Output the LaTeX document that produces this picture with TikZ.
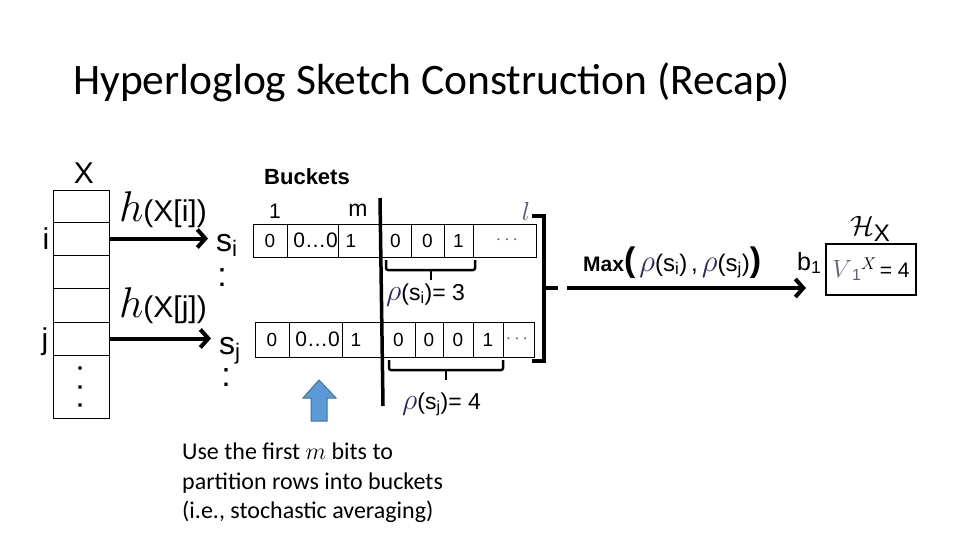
\RequirePackage{fix-cm}
\documentclass[tikz,border=0pt]{standalone}
\usepackage{amsmath}
\usepackage{fontspec}
\setmainfont{Liberation Sans}
\newfontfamily\calfont{Carlito}
\usetikzlibrary{arrows.meta}
\definecolor{rhoc}{RGB}{40,40,95}
\definecolor{lc}{RGB}{85,85,110}
\definecolor{vc}{RGB}{95,95,120}
\definecolor{blfill}{RGB}{91,155,213}
\definecolor{bldraw}{RGB}{65,113,156}
\newcommand{\fsz}[1]{\fontsize{#1}{#1}\selectfont}
\begin{document}
\begin{tikzpicture}[x=1pt,y=-1pt,
  cell/.style={draw, line width=0.9pt, inner sep=0pt, minimum width=56pt},
  bit/.style={draw, line width=0.9pt, inner sep=0pt, font=\fsz{19}},
  bigarrow/.style={line width=4pt, -{Straight Barb[length=8pt,width=18pt]}},
  brace/.style={line width=2.5pt, rounded corners=2pt},
  heavy/.style={line width=3.5pt},
  txt/.style={inner sep=0pt}]
\useasboundingbox (0,0) rectangle (960,540);

% title
\node[txt, anchor=base west, font=\calfont\fsz{43.5}] (title) at (73,95) {Hyperloglog Sketch Construction (Recap)};

% column X
\node[txt, font=\fsz{30}] (X) at (84,173) {X};
\node[cell, minimum height=32pt] (c1) at (81,206) {};
\node[cell, minimum height=33pt] (c2) at (81,238.5) {};
\node[cell, minimum height=33pt] (c3) at (81,271.5) {};
\node[cell, minimum height=34pt] (c4) at (81,305) {};
\node[cell, minimum height=33pt] (c5) at (81,338.5) {};
\node[cell, minimum height=63pt] (c6) at (81,386.5) {};
\fill (78.3,366.3) rectangle (81.7,369.7) (78.3,385.3) rectangle (81.7,388.7) (78.3,403.3) rectangle (81.7,406.7);
\node[txt, font=\fsz{30}] (li) at (46,239) {i};
\node[txt, font=\fsz{30}] (lj) at (45,342) {j};

% hash arrows
\node[txt, anchor=base west] (hi) at (119,221) {{\fsz{43}$h$}{\fsz{30}(X[i])}};
\node[txt, anchor=base west] (hj) at (119,317) {{\fsz{43}$h$}{\fsz{30}(X[j])}};
\coordinate (ti) at (208,238.5);
\coordinate (tj) at (211,338.5);
\draw[bigarrow] (c2.east) -- (ti);
\draw[bigarrow] (c5.east) -- (tj);
\node[txt, anchor=base west, font=\fsz{32}] (si) at (216,251) {s\textsubscript{i}};
\node[txt, anchor=base west, font=\fsz{32}] (sj) at (219,354) {s\textsubscript{j}};
\node[txt, font=\fsz{34}] (ci) at (222,278) {:};
\node[txt, font=\fsz{34}] (cj) at (226,378) {:};

% buckets
\node[txt, font=\bfseries\fsz{22}] (buckets) at (307,177) {Buckets};
\node[txt, font=\fsz{21}] (lab1) at (275,211) {1};
\node[txt, font=\fsz{23}] (labm) at (358,210) {m};
\node[txt, font=\fsz{26}, text=lc] (labl) at (526,211) {$l$};

% top row
\node[bit, minimum width=34pt, minimum height=33pt] (t1) at (270,240.5) {0};
\node[bit, minimum width=51pt, minimum height=33pt, font=\fsz{21}] (t2) at (312.5,240.5) {\hspace*{6pt}0…0};
\node[bit, minimum width=42pt, minimum height=33pt] (t3) at (359,240.5) {1\hspace*{16pt}};
\node[bit, minimum width=31pt, minimum height=33pt] (t4) at (395.5,240.5) {0};
\node[bit, minimum width=33pt, minimum height=33pt] (t5) at (427.5,240.5) {0};
\node[bit, minimum width=29pt, minimum height=33pt] (t6) at (458.5,240.5) {1};
\node[bit, minimum width=63pt, minimum height=33pt, text=lc] (t7) at (504.5,240.5) {\hspace*{8pt}$\cdots$};

% bottom row
\node[bit, minimum width=34pt, minimum height=35pt] (b1c) at (272,339.5) {0};
\node[bit, minimum width=53pt, minimum height=35pt, font=\fsz{21}] (b2c) at (315.5,339.5) {\hspace*{4pt}0…0};
\node[bit, minimum width=40pt, minimum height=35pt] (b3c) at (362,339.5) {1\hspace*{12pt}};
\node[bit, minimum width=33pt, minimum height=35pt] (b4c) at (398.5,339.5) {0};
\node[bit, minimum width=28pt, minimum height=35pt] (b5c) at (429,339.5) {0};
\node[bit, minimum width=30pt, minimum height=35pt] (b6c) at (458,339.5) {0};
\node[bit, minimum width=30pt, minimum height=35pt] (b7c) at (488,339.5) {1};
\node[bit, minimum width=31pt, minimum height=35pt, text=lc] (b8c) at (518.5,339.5) {$\cdots$};

% divider
\coordinate (vtop) at (380,198);
\coordinate (vbot) at (383,406);
\draw[heavy] (vtop) -- (vbot);

% braces
\coordinate (bra1) at (386,260); \coordinate (bra2) at (475,260);
\draw[brace] (bra1) -- (386,270) -- (475,270) -- (bra2);
\draw[brace] (431,270) -- (431,280);
\node[txt, anchor=base west, font=\fsz{23}] (rhoi) at (386,300) {\textcolor{rhoc}{\fsz{30}$\rho$}(s\textsubscript{i})= 3};
\coordinate (brb1) at (389,360); \coordinate (brb2) at (503,360);
\draw[brace] (brb1) -- (389,370) -- (503,370) -- (brb2);
\draw[brace] (446,370) -- (446,380);
\node[txt, anchor=base west, font=\fsz{23}] (rhoj) at (402,409) {\textcolor{rhoc}{\fsz{30}$\rho$}(s\textsubscript{j})= 4};

% big bracket
\coordinate (bk1) at (532,216); \coordinate (bk2) at (532,361); \coordinate (bkm) at (544,288);
\draw[heavy] (bk1) -- (544,216) -- (544,361) -- (bk2);
\draw[heavy] (bkm) -- (558,288);

% max arrow
\coordinate (bs) at (567,288);
\coordinate (bt) at (806,288);
\draw[bigarrow] (bs) -- (bt);
\node[txt, anchor=base west, font=\fsz{24}] (maxt) at (583,271) {{\bfseries\fsz{21}Max{\fsz{34}(}}\,\textcolor{rhoc}{\fsz{31}$\rho$}(s\textsubscript{i})\,,\,\textcolor{rhoc}{\fsz{31}$\rho$}(s\textsubscript{j}){\bfseries\fsz{34})}};

% sketch
\node[txt, anchor=base west, font=\fsz{25}] (b1) at (797,270) {b\textsubscript{1}};
\node[draw, line width=1.2pt, minimum width=90pt, minimum height=51pt, inner sep=0pt] (hbox) at (871,269.5)
  {{\fsz{25}\textcolor{vc}{$V$}}{\fsz{16}\raisebox{-3pt}{\textcolor{vc}{1}}}{\fsz{17}\raisebox{8pt}{$X$}}{\fsz{21}\,= 4}};
\node[txt] (HX) at (870,229) {{\fsz{28}$\mathcal{H}$}{\fsz{24}\raisebox{-6pt}{X}}};

% blue arrow
\draw[fill=blfill, draw=bldraw, line width=1pt] (311,421) -- (311,398) -- (303,398) -- (319,380) -- (336,398) -- (327,398) -- (327,421) -- cycle;

% note
\node[txt, anchor=north west, align=left, font=\calfont\fontsize{24}{29.5}\selectfont] (note) at (182,443)
  {Use the first $m$ bits to\\partition rows into buckets\\(i.e., stochastic averaging)};
\end{tikzpicture}
\end{document}
